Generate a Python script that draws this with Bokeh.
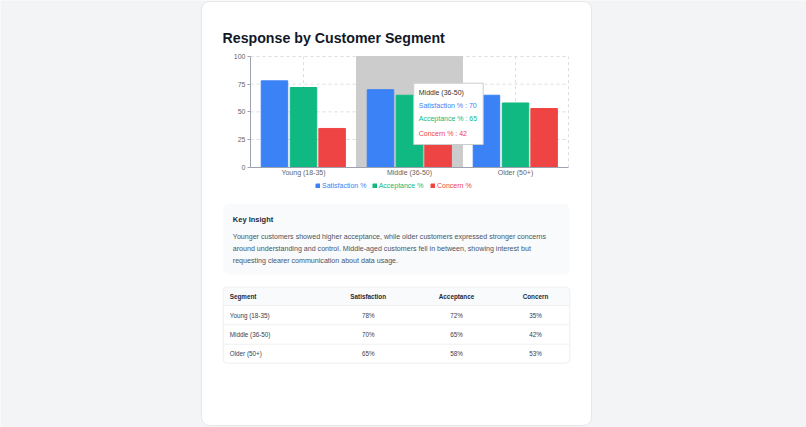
from bokeh.plotting import figure
from bokeh.models import (ColumnDataSource, Range1d, FixedTicker, LinearAxis,
                          Legend, LegendItem)
from bokeh.transform import dodge
from bokeh.core.properties import value
from bokeh.embed import file_html
from bokeh.resources import INLINE

# ---------------- data ----------------
title_text = "Response by Customer Segment"
segments = ["Young (18-35)", "Middle (36-50)", "Older (50+)"]
series_names = ["Satisfaction %", "Acceptance %", "Concern %"]
satisfaction = [78, 70, 65]
acceptance = [72, 65, 58]
concern = [35, 42, 53]
series_colors = ["#3b82f6", "#10b981", "#ef4444"]
y_ticks = [0, 25, 50, 75, 100]
hovered_segment = "Middle (36-50)"
insight_title = "Key Insight"
insight_lines = [
    "Younger customers showed higher acceptance, while older customers expressed stronger concerns",
    "around understanding and control. Middle-aged customers fell in between, showing interest but",
    "requesting clearer communication about data usage.",
]
table_headers = ["Segment", "Satisfaction", "Acceptance", "Concern"]

# ---------------- page geometry (pixels) ----------------
W, H = 806, 427
FONT = "Liberation Sans"
PAGE_BG = "#f3f4f6"
X0, XU = 250.0, 106.0      # pixel of category axis origin, pixels per category
Y0, YU = 166.7, 1.107      # pixel of value 0, pixels per value unit


def dx(px):
    return (px - X0) / XU


def dy(py):
    return (Y0 - py) / YU


n = len(segments)
centers = [i + 0.5 for i in range(n)]

p = figure(width=W, height=H, x_range=Range1d(dx(0), dx(W)), y_range=Range1d(dy(H), dy(0)),
           x_axis_type=None, y_axis_type=None, toolbar_location=None, output_backend="svg",
           min_border=0, background_fill_color=PAGE_BG, border_fill_color=PAGE_BG,
           outline_line_color=None)
p.grid.visible = False

# ---------------- card ----------------
p.quad(left=[dx(201)], right=[dx(591)], top=[dy(1)], bottom=[dy(425)], fill_color="white",
       line_color="#e5e7eb", line_width=1, border_radius=8)
p.text(x=[dx(222)], y=[dy(37)], text=[title_text], text_font=value(FONT), text_font_style="bold",
       text_font_size="14.2px", text_color="#111827", text_baseline="alphabetic")

# ---------------- chart ----------------
src = ColumnDataSource(dict(xi=centers, s=satisfaction, a=acceptance, c=concern))

# dashed grid (horizontal at ticks, vertical at category centres and right edge)
grid_y = [t for t in y_ticks if t > 0]
p.segment(x0=[0] * len(grid_y), x1=[n] * len(grid_y), y0=grid_y, y1=grid_y,
          line_color="#dddddd", line_dash="3 3", line_width=1)
grid_x = centers + [n]
p.segment(x0=grid_x, x1=grid_x, y0=[0] * len(grid_x), y1=[max(y_ticks)] * len(grid_x),
          line_color="#dddddd", line_dash="3 3", line_width=1)

# hover highlight band
hi = segments.index(hovered_segment)
p.vbar(x=[centers[hi]], top=[max(y_ticks)], bottom=[0], width=1.0, color="#cccccc")

offsets = [-0.274, 0.0, 0.27]
cols = ["s", "a", "c"]
bar_renderers = []
for name, col, color, off in zip(series_names, cols, series_colors, offsets):
    r = p.vbar(x=dodge("xi", off), top=col, width=0.25, color=color, source=src)
    bar_renderers.append(r)

# axes at fixed locations inside the page
yax = LinearAxis(fixed_location=0, bounds=(0, max(y_ticks)), ticker=FixedTicker(ticks=y_ticks))
xax = LinearAxis(fixed_location=0, bounds=(0, n), ticker=FixedTicker(ticks=centers),
                 major_label_overrides={c: s for c, s in zip(centers, segments)})
for ax in (xax, yax):
    ax.axis_line_color = "#9ca3af"
    ax.major_tick_line_color = "#9ca3af"
    ax.minor_tick_line_color = None
    ax.major_tick_in = 0
    ax.major_label_text_font = FONT
    ax.major_label_text_font_size = "7px"
    ax.major_label_text_color = "#666666"
yax.major_tick_out = 3
yax.major_label_standoff = 2
xax.major_tick_out = 0
xax.major_label_standoff = 2
p.add_layout(yax, "left")
p.add_layout(xax, "below")

# per-series coloured legends under the axis
leg_x = [315, 371.7, 430]
for name, r, color, lx in zip(series_names, bar_renderers, series_colors, leg_x):
    lg = Legend(items=[LegendItem(label=name, renderers=[r])], location=(lx, H - 189),
                orientation="horizontal", label_text_color=color, label_text_font=FONT,
                label_text_font_size="7px", glyph_width=5, glyph_height=5, label_height=8,
                label_standoff=2, padding=0, margin=0, spacing=0,
                background_fill_alpha=0, border_line_alpha=0)
    p.add_layout(lg, "center")

# tooltip (static, for the hovered segment)
tl, tr, tt, tb = hi + 0.54, hi + 1.195, dy(82.7), dy(144)
p.quad(left=[tl], right=[tr], top=[tt], bottom=[tb], fill_color="white",
       line_color="#cccccc", line_width=1)
tip_vals = [satisfaction[hi], acceptance[hi], concern[hi]]
tx = tl + 5 / XU
p.text(x=[tx], y=[dy(92.3)], text=[hovered_segment], text_font=value(FONT),
       text_font_size="7px", text_color="#333333", text_baseline="middle")
p.text(x=[tx] * 3, y=[dy(104.7), dy(118.3), dy(132.7)],
       text=[f"{nm} : {v}" for nm, v in zip(series_names, tip_vals)],
       text_font=value(FONT), text_font_size="7px", text_color=series_colors,
       text_baseline="middle")

# ---------------- insight box ----------------
p.quad(left=[dx(222.7)], right=[dx(569.3)], top=[dy(203.3)], bottom=[dy(274)],
       fill_color="#f9fafb", line_color=None, border_radius=6)
p.text(x=[dx(232.3)], y=[dy(219.3)], text=[insight_title], text_font=value(FONT),
       text_font_style="bold", text_font_size="7.5px", text_color="#1f2937",
       text_baseline="middle")
p.text(x=[dx(232.3)] * 3, y=[dy(236.7), dy(248.3), dy(260.0)], text=insight_lines,
       text_font=value(FONT), text_font_size="7.1px", text_color="#4b5563",
       text_baseline="middle")

# ---------------- table ----------------
p.quad(left=[dx(222.7)], right=[dx(569.3)], top=[dy(286.7)], bottom=[dy(362.7)],
       fill_color="white", line_color="#eeeeee", border_radius=4)
p.quad(left=[dx(223.2)], right=[dx(568.8)], top=[dy(287.2)], bottom=[dy(305)],
       fill_color="#f9fafb", line_color=None, border_radius=(4, 4, 0, 0))
sep_y = [dy(305), dy(324.3), dy(343.7)]
p.segment(x0=[dx(222.7)] * 3, x1=[dx(569.3)] * 3, y0=sep_y, y1=sep_y,
          line_color="#f0f0f0", line_width=1)
col_x = [dx(229.3), dx(367.7), dx(456.0), dx(535.0)]
col_align = ["left", "center", "center", "center"]
row_y = [dy(315.0), dy(334.3), dy(353.3)]
for cx, al, h in zip(col_x, col_align, table_headers):
    p.text(x=[cx], y=[dy(295.7)], text=[h], text_font=value(FONT), text_font_style="bold",
           text_font_size="6.3px", text_color="#1f2937", text_align=al, text_baseline="middle")
p.text(x=[col_x[0]] * n, y=row_y, text=segments, text_font=value(FONT),
       text_font_size="6.3px", text_color="#374151", text_align="left", text_baseline="middle")
for cx, vals in zip(col_x[1:], [satisfaction, acceptance, concern]):
    p.text(x=[cx] * n, y=row_y, text=[f"{v}%" for v in vals], text_font=value(FONT),
           text_font_size="6.3px", text_color="#374151", text_align="center",
           text_baseline="middle")

open("out.html", "w").write(file_html(p, INLINE))
